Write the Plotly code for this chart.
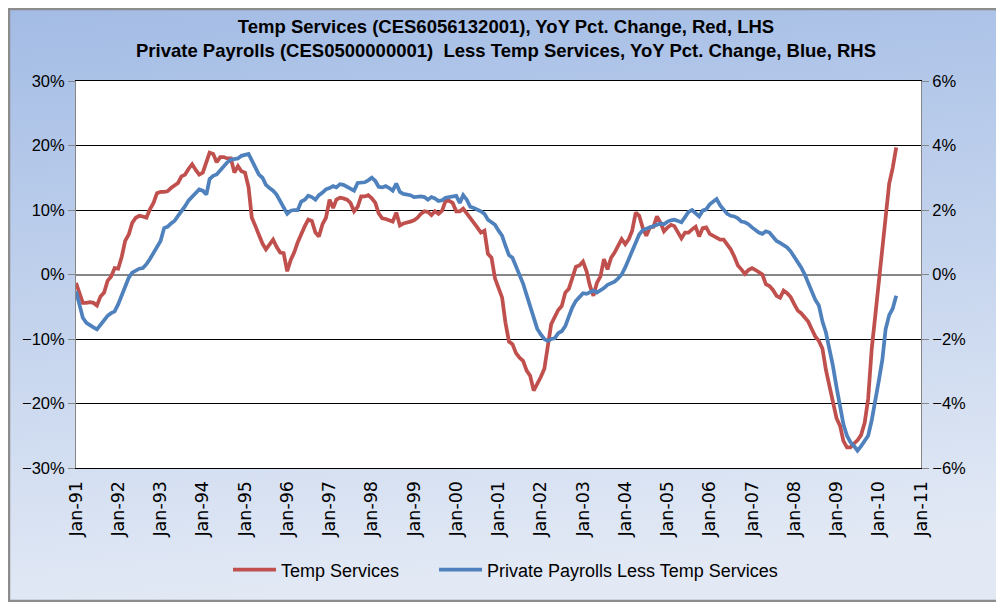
import base64
import pandas as pd
import plotly.graph_objects as go

# YoY % change, monthly from Jan-1991
temp_services = [
    -1.3, -2.8, -4.4, -4.4, -4.3, -4.4, -4.8, -3.4, -2.8, -1.0, -0.3, 1.0,
    0.9, 2.8, 5.2, 6.2, 8.0, 8.8, 9.1, 9.0, 8.8, 10.1, 11.1, 12.6,
    12.8, 12.8, 12.9, 13.4, 13.8, 14.2, 15.2, 15.5, 16.4, 17.1, 16.2, 15.5,
    15.8, 17.3, 18.9, 18.7, 17.4, 18.2, 18.2, 18.0, 18.0, 15.8, 16.8, 16.0,
    15.8, 13.5, 8.8, 7.5, 6.0, 4.8, 3.9, 4.6, 5.4, 4.3, 3.4, 3.3,
    0.5, 2.3, 3.4, 5.0, 6.3, 7.5, 8.5, 8.3, 6.5, 5.9, 7.8, 8.8,
    11.6, 10.3, 11.6, 11.9, 11.8, 11.6, 11.1, 9.8, 10.5, 12.1, 12.1, 12.3,
    11.8, 11.1, 9.5, 8.7, 8.6, 8.4, 8.2, 9.6, 7.6, 7.9, 8.0, 8.2,
    8.4, 8.8, 9.4, 9.8, 9.7, 9.2, 9.8, 9.4, 9.9, 11.4, 11.4, 11.1,
    9.8, 9.8, 10.2, 9.5, 8.8, 8.2, 7.3, 6.5, 6.8, 3.2, 2.6, -0.6,
    -2.3, -3.6, -7.4, -10.4, -10.8, -12.2, -12.9, -13.4, -14.9, -15.7, -18.0, -17.1,
    -15.9, -14.6, -11.0, -7.7, -6.6, -5.5, -4.9, -2.8, -2.2, -0.7, 1.2, 1.4,
    2.0, 0.5, -1.7, -3.3, -1.3, -0.3, 2.4, 0.8, 2.6, 3.4, 4.5, 5.5,
    4.7, 5.5, 6.8, 9.6, 9.1, 7.2, 6.0, 7.3, 7.4, 9.0, 8.0, 6.7,
    7.3, 7.7, 7.5, 6.5, 5.6, 6.5, 6.5, 7.0, 7.4, 5.9, 7.2, 7.3,
    6.3, 6.0, 5.7, 5.4, 5.4, 4.6, 3.9, 2.8, 1.4, 0.8, 0.1, 0.7,
    1.0, 0.7, 0.4, 0.0, -1.5, -1.8, -2.4, -3.3, -3.6, -2.5, -2.9, -3.5,
    -4.6, -5.6, -6.0, -6.7, -7.3, -8.5, -9.6, -10.3, -11.5, -14.8, -17.5, -20.2,
    -22.3, -23.5, -25.8, -26.8, -26.8, -26.2, -25.7, -24.9, -23.0, -19.3, -11.5, -6.5,
    -1.2, 3.2, 8.4, 14.1, 16.5, 19.7,
]

private_less_temp = [
    -0.52, -1.00, -1.34, -1.50, -1.58, -1.64, -1.70, -1.56, -1.44, -1.28, -1.20, -1.14,
    -0.92, -0.66, -0.36, -0.10, 0.06, 0.12, 0.18, 0.20, 0.32, 0.48, 0.66, 0.86,
    1.04, 1.44, 1.48, 1.58, 1.66, 1.82, 1.96, 2.12, 2.30, 2.40, 2.52, 2.64,
    2.60, 2.48, 2.96, 3.06, 3.10, 3.24, 3.38, 3.48, 3.56, 3.58, 3.60, 3.68,
    3.70, 3.74, 3.54, 3.32, 3.10, 3.00, 2.78, 2.68, 2.60, 2.48, 2.30, 2.08,
    1.88, 1.98, 2.00, 2.00, 2.26, 2.32, 2.44, 2.40, 2.32, 2.46, 2.54, 2.64,
    2.68, 2.74, 2.70, 2.80, 2.78, 2.72, 2.68, 2.60, 2.84, 2.84, 2.86, 2.92,
    3.00, 2.90, 2.72, 2.70, 2.74, 2.68, 2.60, 2.82, 2.56, 2.50, 2.48, 2.46,
    2.40, 2.42, 2.42, 2.40, 2.32, 2.40, 2.36, 2.28, 2.30, 2.38, 2.40, 2.42,
    2.44, 2.22, 2.46, 2.32, 2.10, 2.06, 2.02, 1.96, 1.88, 1.70, 1.62, 1.54,
    1.36, 1.20, 0.90, 0.60, 0.52, 0.26, -0.06, -0.28, -0.64, -0.96, -1.38, -1.68,
    -1.86, -2.00, -2.06, -2.00, -1.98, -1.82, -1.76, -1.60, -1.30, -1.02, -0.82, -0.72,
    -0.58, -0.60, -0.54, -0.50, -0.56, -0.50, -0.42, -0.32, -0.26, -0.22, -0.12, 0.00,
    0.22, 0.48, 0.70, 0.98, 1.24, 1.38, 1.42, 1.46, 1.50, 1.56, 1.58, 1.56,
    1.64, 1.68, 1.70, 1.66, 1.62, 1.78, 1.94, 2.00, 1.88, 1.80, 1.98, 2.02,
    2.18, 2.26, 2.34, 2.14, 2.00, 1.88, 1.82, 1.80, 1.74, 1.64, 1.62, 1.56,
    1.46, 1.38, 1.30, 1.26, 1.34, 1.30, 1.18, 1.04, 0.98, 0.92, 0.84, 0.72,
    0.56, 0.42, 0.22, 0.00, -0.28, -0.56, -0.78, -0.96, -1.46, -1.80, -2.32, -2.84,
    -3.50, -4.06, -4.64, -5.00, -5.20, -5.32, -5.46, -5.32, -5.18, -5.00, -4.52, -3.96,
    -3.30, -2.64, -1.70, -1.26, -1.06, -0.66,
]

months = pd.date_range("1991-01-01", periods=len(temp_services), freq="MS")

title_lines = [
    "Temp Services (CES6056132001), YoY Pct. Change, Red, LHS",
    "Private Payrolls (CES0500000001)  Less Temp Services, YoY Pct. Change, Blue, RHS",
]
series_names = ["Temp Services", "Private Payrolls Less Temp Services"]

# the page body has an 8px margin, so the figure is sized to end at the window edge
W, H = 996, 594
L, R, T, B = 68, 83, 73, 134
pw, ph = W - L - R, H - T - B

# light blue gradient for the chart area
svg = (
    '<svg xmlns="http://www.w3.org/2000/svg" width="100" height="100" preserveAspectRatio="none">'
    '<defs><linearGradient id="g" x1="0" y1="0" x2="0.15" y2="1">'
    '<stop offset="0" stop-color="#a3bce5"/><stop offset="1" stop-color="#e2e9f5"/>'
    '</linearGradient></defs><rect width="100" height="100" fill="url(#g)"/></svg>'
)
bg_src = "data:image/svg+xml;base64," + base64.b64encode(svg.encode()).decode()

label_font = "Liberation Sans, Arial, sans-serif"

fig = go.Figure()
fig.add_trace(go.Scatter(
    x=months, y=temp_services, mode="lines",
    name=series_names[0] + "\u00a0" * 6,
    line=dict(color="#c0504d", width=3.75),
))
fig.add_trace(go.Scatter(
    x=months, y=private_less_temp, mode="lines", name=series_names[1],
    line=dict(color="#4f81bd", width=3.75), yaxis="y2",
))

fig.update_layout(
    width=W, height=H,
    margin=dict(l=L, r=R, t=T, b=B),
    paper_bgcolor="#c8d6ee",
    plot_bgcolor="white",
    title=dict(
        text="<b>" + "<br>".join(title_lines) + "</b>",
        x=0.5, xanchor="center", y=1 - 25 / H, yanchor="middle",
        font=dict(family=label_font, size=18.5, color="black"),
    ),
    xaxis=dict(
        type="date",
        range=[pd.Timestamp("1991-01-01"), pd.Timestamp("2011-01-01")],
        tickmode="linear", tick0="1991-01-01", dtick="M12",
        tickformat="%b-%y", tickangle=-90,
        tickfont=dict(family="DejaVu Sans", size=17.5, color="black"),
        ticklabelstandoff=5,
        showgrid=False, showline=True, linecolor="black", linewidth=1, mirror=True,
        ticks="", zeroline=False,
    ),
    yaxis=dict(
        range=[-30, 30], dtick=10, ticksuffix="%",
        tickfont=dict(family=label_font, size=16.5, color="black"),
        showgrid=True, gridcolor="black", gridwidth=1,
        zeroline=True, zerolinecolor="#868686", zerolinewidth=1.5,
        showline=True, linecolor="#868686", linewidth=1,
        ticks="outside", ticklen=7, tickcolor="#868686",
    ),
    yaxis2=dict(
        range=[-6, 6], dtick=2, ticksuffix="%",
        overlaying="y", side="right",
        tickfont=dict(family=label_font, size=16.5, color="black"),
        showgrid=False, zeroline=False,
        showline=True, linecolor="#868686", linewidth=1,
        ticks="outside", ticklen=7, tickcolor="#868686",
    ),
    legend=dict(
        orientation="h", x=0.5 + 7 / pw, xanchor="center",
        yref="container", y=1 - (570 - 8) / H, yanchor="middle",
        font=dict(family=label_font, size=18, color="black"),
        bgcolor="rgba(0,0,0,0)", itemwidth=43,
    ),
    showlegend=True,
    images=[dict(
        source=bg_src, xref="paper", yref="paper",
        x=-L / pw, y=1 + T / ph, sizex=W / pw, sizey=H / ph,
        xanchor="left", yanchor="top", sizing="stretch", layer="below",
    )],
    shapes=[
        dict(type="rect", xref="paper", yref="paper", x0=0, x1=1, y0=0, y1=1,
             fillcolor="white", line=dict(width=0), layer="below"),
        dict(type="rect", xref="paper", yref="paper",
             x0=-(L - 1) / pw, x1=1 + (R - 1) / pw, y0=-(B - 1) / ph, y1=1 + (T - 1) / ph,
             line=dict(color="#8c8c8c", width=2.5), layer="above"),
    ],
)

fig.write_html("out.html")
